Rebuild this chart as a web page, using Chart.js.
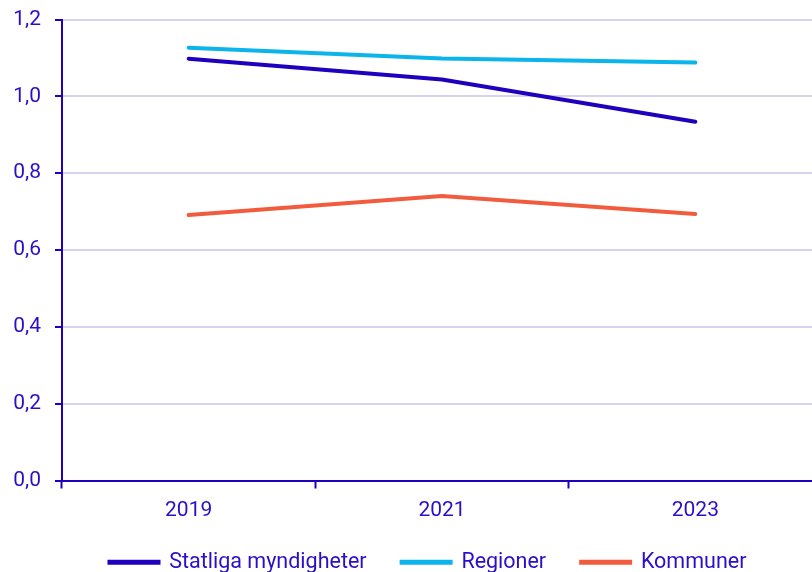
<!DOCTYPE html>
<html>
<head>
<meta charset="utf-8">
<script src="https://cdn.jsdelivr.net/npm/chart.js@4"></script>
<style>
  html, body { margin: 0; padding: 0; overflow: hidden; background: #fff; }
  #wrap { position: relative; top: -7px; width: 822px; height: 590px; }
</style>
</head>
<body>
<div id="wrap"><canvas id="chart"></canvas></div>
<script>
// data
const years = ["2019", "2021", "2023"];
const statliga = [1.098, 1.044, 0.934];
const regioner = [1.127, 1.099, 1.088];
const kommuner = [0.691, 0.741, 0.694];
const yTicks = [0, 0.2, 0.4, 0.6, 0.8, 1.0, 1.2];

const textColor = "#2a0fc8";
const axisColor = "#1e00be";

Chart.defaults.font.family = "Roboto";
Chart.defaults.font.size = 21;
Chart.defaults.color = textColor;

// y labels are clipped to the axis box, so let the box reach the left edge again
const yLabelRoom = {
  id: "yLabelRoom",
  afterLayout: (chart) => {
    chart.scales.y.left = 0;
  },
};

const ctx = document.getElementById("chart").getContext("2d");
const chart = new Chart(ctx, {
  type: "line",
  data: {
    labels: years,
    datasets: [
      {
        label: "Statliga myndigheter",
        data: statliga,
        borderColor: "#1e00be",
        backgroundColor: "#1e00be",
      },
      {
        label: "Regioner",
        data: regioner,
        borderColor: "#0bb4eb",
        backgroundColor: "#0bb4eb",
      },
      {
        label: "Kommuner",
        data: kommuner,
        borderColor: "#f25c3e",
        backgroundColor: "#f25c3e",
      },
    ],
  },
  plugins: [yLabelRoom],
  options: {
    responsive: true,
    maintainAspectRatio: false,
    animation: false,
    elements: {
      line: { borderWidth: 4, tension: 0, borderCapStyle: "round" },
      point: { radius: 0, hoverRadius: 0 },
    },
    // left padding only nudges the legend; the y axis is narrowed to match
    layout: { padding: { left: 34, top: 0, right: 0, bottom: 0 } },
    plugins: {
      tooltip: { enabled: false },
      legend: {
        position: "bottom",
        labels: {
          boxWidth: 49,
          boxHeight: 1,
          padding: 35,
          color: textColor,
          font: { size: 21.5 },
        },
      },
    },
    scales: {
      x: {
        offset: true,
        grid: {
          drawOnChartArea: false,
          offset: true,
          tickColor: axisColor,
          tickWidth: 2,
          tickLength: 8,
        },
        border: { color: axisColor, width: 2 },
        ticks: { padding: 9.5, color: textColor, font: { size: 21 } },
        // labels sit lower than chart.js would leave room for
        afterFit: (scale) => {
          scale.height = 36;
        },
      },
      y: {
        min: 0,
        max: 1.2,
        afterBuildTicks: (axis) => {
          axis.ticks = yTicks.map((v) => ({ value: v }));
        },
        afterFit: (scale) => {
          scale.width = 28;
        },
        grid: {
          color: "#d6d3ef",
          lineWidth: 2,
          tickColor: axisColor,
          tickWidth: 2,
          tickLength: 7,
        },
        border: { color: axisColor, width: 2 },
        ticks: {
          padding: 14,
          color: textColor,
          font: { size: 21 },
          callback: (v) => v.toFixed(1).replace(".", ","),
        },
      },
    },
  },
});
</script>
</body>
</html>
